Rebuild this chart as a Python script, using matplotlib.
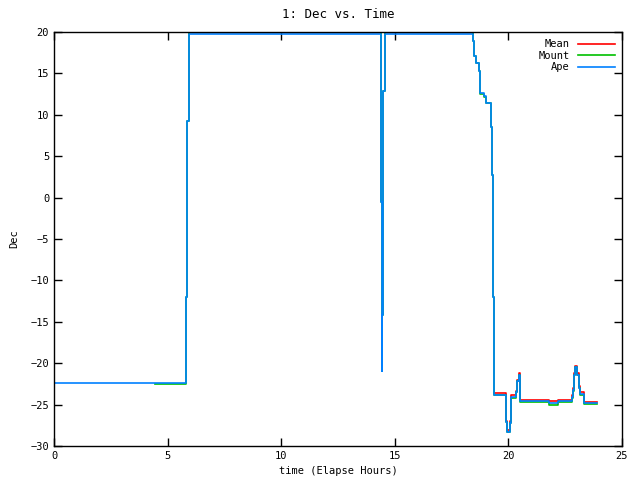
import matplotlib
matplotlib.use("Agg")
import matplotlib.pyplot as plt

# Ape curve (steps)
ape_t = [0, 5.82, 5.87, 5.93, 14.38, 14.42, 14.43, 14.46, 14.49, 14.55,
         18.46, 18.50, 18.56, 18.69, 18.74, 18.94, 19.01, 19.22, 19.26, 19.31,
         19.35, 19.88, 19.91, 19.95, 20.07, 20.10, 20.13, 20.33, 20.39, 20.45,
         20.50, 20.52, 21.80, 22.18, 22.79, 22.86, 22.90, 22.94, 23.03, 23.09,
         23.15, 23.33, 23.89]
ape_v = [-22.4, -12.0, 9.25, 19.8, -0.5, -21.0, -14.2, -0.5, 12.9, 19.8,
         18.9, 17.1, 16.3, 15.3, 12.6, 12.3, 11.4, 8.5, 2.7, -12.0,
         -23.8, -24.9, -27.1, -28.3, -27.2, -25.0, -24.1, -23.5, -22.2, -21.4,
         -23.7, -24.6, -24.8, -24.6, -24.1, -23.2, -21.4, -20.5, -21.4, -23.0,
         -23.7, -24.8, -24.8]

# Mount curve
mount_t = [4.45, 5.82, 5.87, 5.93, 14.38, 14.42, 14.43, 14.46, 14.49, 14.55,
           18.46, 18.50, 18.56, 18.69, 18.74, 18.94, 19.01, 19.22, 19.26, 19.31,
           19.35, 19.88, 19.91, 19.95, 20.07, 20.10, 20.13, 20.33, 20.39, 20.45,
           20.50, 20.52, 21.80, 22.18, 22.79, 22.86, 22.90, 22.94, 23.03, 23.09,
           23.15, 23.33, 23.89]
mount_v = [-22.55, -12.0, 9.25, 19.95, -0.5, -21.0, -14.2, -0.5, 12.9, 19.95,
           18.9, 17.1, 16.2, 15.3, 12.5, 12.2, 11.4, 8.5, 2.7, -12.0,
           -23.9, -25.0, -27.1, -28.3, -27.2, -25.0, -24.2, -23.5, -22.2, -21.4,
           -23.7, -24.7, -25.0, -24.7, -24.2, -23.3, -21.4, -20.5, -21.4, -23.0,
           -23.8, -24.9, -24.9]

# Mean curve (only visible in the tail)
mean_t = [19.35, 19.88, 19.91, 19.95, 20.07, 20.10, 20.13, 20.33, 20.39, 20.45,
          20.50, 20.52, 21.80, 22.18, 22.79, 22.86, 22.90, 22.94, 23.03, 23.09,
          23.15, 23.33, 23.89]
mean_v = [-23.6, -24.7, -27.0, -28.1, -27.0, -24.8, -23.9, -23.3, -22.0, -21.2,
          -23.5, -24.4, -24.6, -24.4, -23.9, -23.0, -21.2, -20.3, -21.2, -22.8,
          -23.5, -24.7, -24.7]

plt.rcParams['font.family'] = ['DejaVu Sans Mono']
plt.rcParams['font.size'] = 7.5

fig = plt.figure(figsize=(6.4, 4.8), dpi=100)
ax = fig.add_axes([54/640, 34/480, 568/640, 414/480])

ax.plot(mean_t, mean_v, color='#ff0000', lw=1.2, drawstyle='steps-post', label='Mean')
ax.plot(mount_t, mount_v, color='#00c000', lw=1.2, drawstyle='steps-post', label='Mount')
ax.plot(ape_t, ape_v, color='#0080ff', lw=1.2, drawstyle='steps-post', label='Ape')

ax.set_xlim(0, 25)
ax.set_ylim(-30, 20)
ax.set_xticks(range(0, 26, 5))
ax.set_yticks(range(-30, 21, 5))
ax.tick_params(direction='in', length=6, top=True, right=True, width=1)
for s in ax.spines.values():
    s.set_linewidth(1)

ax.set_title("1: Dec vs. Time", pad=10)
ax.set_xlabel("time (Elapse Hours)", labelpad=4)
ax.set_ylabel("Dec", labelpad=8)

ax.legend(loc='upper right', frameon=False, markerfirst=False, handlelength=3.5,
          labelspacing=0.15, borderaxespad=0.3, handletextpad=0.8)

plt.savefig('out.png')
